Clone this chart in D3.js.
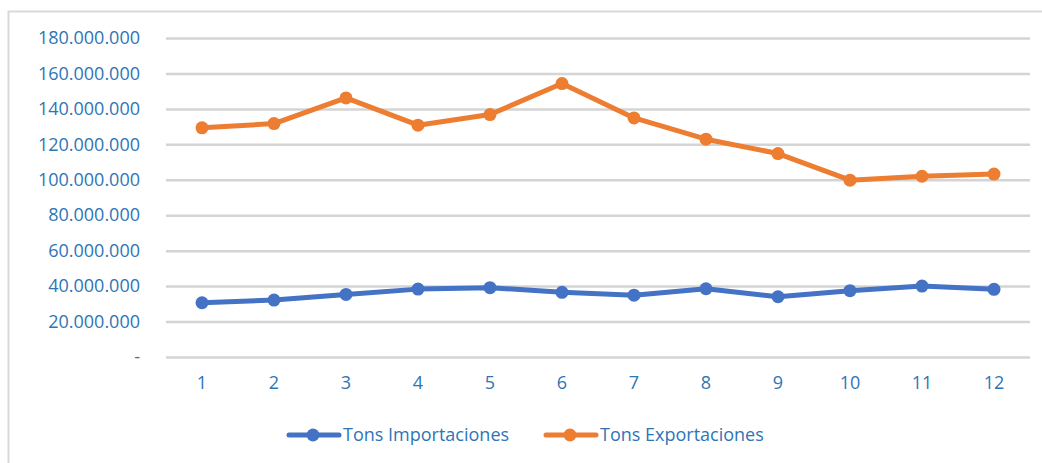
<!DOCTYPE html>
<html>
<head>
<meta charset="utf-8">
<script src="https://d3js.org/d3.v7.min.js"></script>
<style>
  body { margin: 0; background: #fff; }
  text { font-family: "Open Sans", sans-serif; }
</style>
</head>
<body>
<div id="chart"></div>
<script>
// months
const MONTHS = [1, 2, 3, 4, 5, 6, 7, 8, 9, 10, 11, 12];
// tons
const IMPORTS = [30.6e6, 32.1e6, 35.3e6, 38.3e6, 39.1e6, 36.5e6, 34.9e6, 38.5e6, 34.0e6, 37.4e6, 40.0e6, 38.2e6];
const EXPORTS = [129.3e6, 131.7e6, 146.2e6, 130.8e6, 136.8e6, 154.3e6, 134.9e6, 122.9e6, 114.8e6, 99.8e6, 102.0e6, 103.2e6];
const Y_TICKS = [0, 20e6, 40e6, 60e6, 80e6, 100e6, 120e6, 140e6, 160e6, 180e6];
const SERIES_NAMES = ["Tons Importaciones", "Tons Exportaciones"];
const COLORS = ["#4472C4", "#ED7D31"];

const WIDTH = 1042, HEIGHT = 463;
const MARGIN = { left: 166, right: 12, top: 38, bottom: 106 };
const LABEL_COLOR = "#2E75B6";
const FONT_SIZE = "18px";

const svg = d3.select("#chart").append("svg")
  .attr("width", WIDTH)
  .attr("height", HEIGHT);

// chart frame
svg.append("rect")
  .attr("x", 8.5).attr("y", 11.5)
  .attr("width", WIDTH).attr("height", HEIGHT)
  .attr("fill", "none")
  .attr("stroke", "#d9d9d9")
  .attr("stroke-width", 2);

const x = d3.scaleBand()
  .domain(MONTHS)
  .range([MARGIN.left, WIDTH - MARGIN.right]);

const y = d3.scaleLinear()
  .domain([0, 180e6])
  .range([HEIGHT - MARGIN.bottom, MARGIN.top]);

const fmt = v => v === 0 ? "-" : d3.format(",")(v).replace(/,/g, ".");

// gridlines + y labels
const yAxis = svg.append("g")
  .attr("transform", `translate(${MARGIN.left},0)`)
  .call(d3.axisLeft(y).tickValues(Y_TICKS).tickFormat(fmt)
    .tickSize(-(WIDTH - MARGIN.left - MARGIN.right)).tickPadding(26));
yAxis.select(".domain").remove();
yAxis.selectAll(".tick line").attr("stroke", "#d4d4d4").attr("stroke-width", 2.5);
yAxis.selectAll(".tick text")
  .attr("fill", LABEL_COLOR)
  .style("font-size", FONT_SIZE);

// x labels
const xAxis = svg.append("g")
  .attr("transform", `translate(0,${HEIGHT - MARGIN.bottom})`)
  .call(d3.axisBottom(x).tickSize(0).tickPadding(19));
xAxis.select(".domain").remove();
xAxis.selectAll(".tick text")
  .attr("fill", LABEL_COLOR)
  .style("font-size", FONT_SIZE);

const line = d3.line()
  .x((d, i) => x(MONTHS[i]) + x.bandwidth() / 2)
  .y(d => y(d));

[IMPORTS, EXPORTS].forEach((series, s) => {
  svg.append("path")
    .datum(series)
    .attr("fill", "none")
    .attr("stroke", COLORS[s])
    .attr("stroke-width", 5)
    .attr("stroke-linejoin", "round")
    .attr("d", line);
  svg.append("g").selectAll("circle")
    .data(series)
    .join("circle")
    .attr("cx", (d, i) => x(MONTHS[i]) + x.bandwidth() / 2)
    .attr("cy", d => y(d))
    .attr("r", 6.5)
    .attr("fill", COLORS[s]);
});

// legend
const LEGEND_X = [289, 546];
const legend = svg.append("g").attr("transform", "translate(0,435)");
SERIES_NAMES.forEach((name, s) => {
  const g = legend.append("g").attr("transform", `translate(${LEGEND_X[s]},0)`);
  g.append("line")
    .attr("x1", 0).attr("x2", 50)
    .attr("stroke", COLORS[s])
    .attr("stroke-width", 5)
    .attr("stroke-linecap", "round");
  g.append("circle").attr("cx", 24).attr("r", 6.5).attr("fill", COLORS[s]);
  g.append("text")
    .attr("x", 54).attr("dy", "0.35em")
    .attr("fill", LABEL_COLOR)
    .style("font-size", FONT_SIZE)
    .text(name);
});
</script>
</body>
</html>
